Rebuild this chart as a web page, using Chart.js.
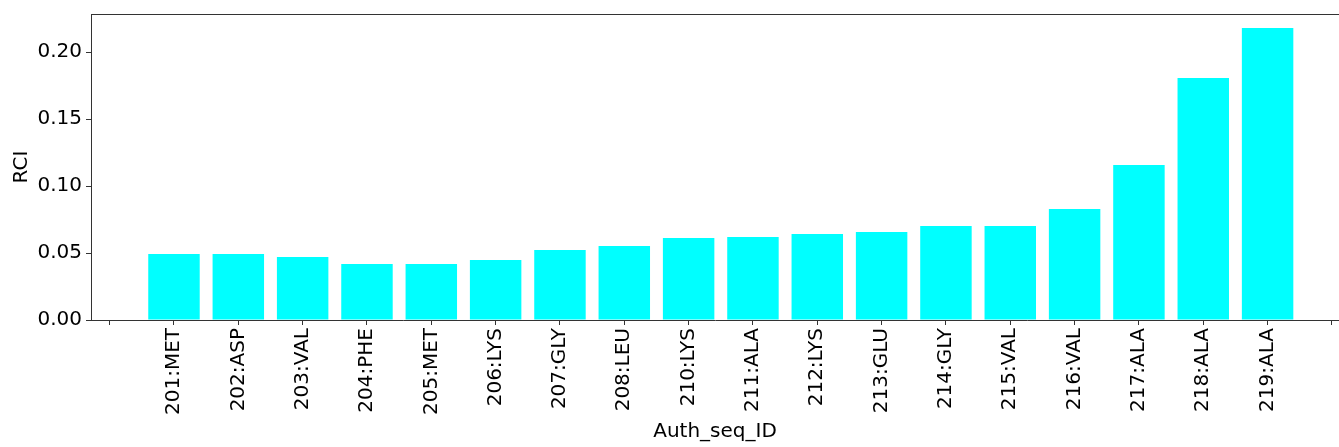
<!DOCTYPE html>
<html>
<head>
<meta charset="utf-8">
<script src="https://cdn.jsdelivr.net/npm/chart.js@4"></script>
<style>
  html, body { margin: 0; padding: 0; background: #fff; overflow: hidden; }
  #wrap { width: 1339px; height: 447px; }
</style>
</head>
<body>
<div id="wrap"><canvas id="myChart"></canvas></div>
<script>
'use strict';
// residues (209 is missing in the source data)
let residues = ['201:MET','202:ASP','203:VAL','204:PHE','205:MET','206:LYS','207:GLY','208:LEU',
                '210:LYS','211:ALA','212:LYS','213:GLU','214:GLY','215:VAL','216:VAL','217:ALA','218:ALA','219:ALA'];
let rci = [0.0493, 0.0493, 0.0470, 0.0418, 0.0418, 0.0448, 0.0522, 0.0552,
           0.0612, 0.0619, 0.0642, 0.0657, 0.0701, 0.0701, 0.0828, 0.1157, 0.1806, 0.2179];
let yTicks = [0, 0.05, 0.10, 0.15, 0.20];
// x tick positions: one empty tick before and after the bars
let xTicks = [];
for (let i = -1; i <= residues.length; i++) {
    xTicks.push(i);
}

let points = [];
for (let i = 0; i < residues.length; i++) {
    points.push({x: i, y: rci[i]});
}

let font = {family: 'DejaVu Sans', size: 20};
let spine = '#333';

// top spine like matplotlib
let topSpine = {
    id: 'topSpine',
    afterDraw(chart) {
        let a = chart.chartArea;
        let ctx = chart.ctx;
        ctx.save();
        ctx.strokeStyle = spine;
        ctx.lineWidth = 1;
        ctx.beginPath();
        ctx.moveTo(a.left, a.top + 0.5);
        ctx.lineTo(a.right, a.top + 0.5);
        ctx.stroke();
        ctx.restore();
    }
};

let ctx = document.getElementById('myChart').getContext('2d');
let myChart = new Chart(ctx, {
    type: 'bar',
    data: {
        datasets: [{
            label: 'RCI',
            data: points,
            backgroundColor: '#00ffff',
            borderWidth: 0,
            barPercentage: 0.8,
            categoryPercentage: 1
        }]
    },
    options: {
        responsive: true,
        maintainAspectRatio: false,
        animation: false,
        layout: {padding: {top: 14, left: 0, right: 0, bottom: 0}},
        plugins: {
            legend: {display: false},
            tooltip: {enabled: false}
        },
        scales: {
            x: {
                type: 'linear',
                offset: false,
                min: -1.29,
                max: 18.11,
                afterBuildTicks: (scale) => {
                    scale.ticks = xTicks.map(v => ({value: v}));
                },
                afterFit: (scale) => {
                    scale.height = 127;
                    scale.paddingLeft = 0;
                    scale.paddingRight = 0;
                },
                grid: {display: true, offset: false, drawOnChartArea: false, drawTicks: true, tickLength: 5, tickColor: spine},
                border: {display: true, color: spine, width: 1},
                ticks: {
                    autoSkip: false,
                    minRotation: 90,
                    maxRotation: 90,
                    padding: 3,
                    color: '#000',
                    font: font,
                    callback: (v) => (v >= 0 && v < residues.length) ? residues[v] : ''
                },
                title: {display: true, text: 'Auth_seq_ID', color: '#000', font: font, padding: {top: 0, bottom: 3}}
            },
            y: {
                min: 0,
                max: 0.2284,
                afterBuildTicks: (scale) => {
                    scale.ticks = yTicks.map(v => ({value: v}));
                },
                afterFit: (scale) => {
                    scale.width = 91;
                    scale.paddingTop = 0;
                    scale.paddingBottom = 0;
                },
                grid: {display: true, drawOnChartArea: false, drawTicks: true, tickLength: 5, tickColor: spine},
                border: {display: true, color: spine, width: 1},
                ticks: {
                    padding: 4,
                    color: '#000',
                    font: font,
                    callback: (v) => v.toFixed(2)
                },
                title: {display: true, text: 'RCI', color: '#000', font: font, padding: {top: 10, bottom: 0}}
            }
        }
    },
    plugins: [topSpine]
});
</script>
</body>
</html>
